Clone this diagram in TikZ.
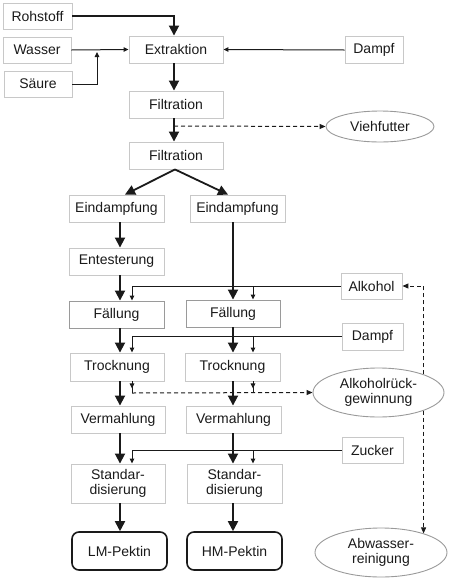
\documentclass[tikz,border=0pt]{standalone}
\usepackage{fontspec}
\setmainfont{Liberation Sans}
\usetikzlibrary{arrows.meta,shapes.geometric}
\definecolor{boxgray}{HTML}{C8C8C8}
\definecolor{ellgray}{HTML}{9A9A9A}
\definecolor{ink}{HTML}{1A1A1A}
\begin{document}
\begin{tikzpicture}[x=1pt,y=-1pt,
  lbl/.style={font=\fontsize{14}{15.5}\selectfont, text=ink, align=center, inner sep=0pt},
  box/.style={lbl, draw=boxgray, line width=0.9pt, minimum height=27pt},
  darkbox/.style={box, draw=ellgray},
  prod/.style={lbl, draw=ink, line width=1.6pt, rounded corners=7pt, minimum width=95pt, minimum height=38pt},
  ell/.style={lbl, ellipse, draw=ellgray, line width=0.9pt},
  bigarrow/.style={draw=ink, line width=1.8pt, -{Triangle[length=10pt,width=10pt]}},
  smallarrow/.style={draw=ink, line width=1pt, -{Triangle[length=5pt,width=4.5pt]}},
  thinline/.style={draw=ink, line width=1pt},
  dashline/.style={draw=ink, line width=1pt, dash pattern=on 4pt off 3pt, -{Triangle[length=6pt,width=5pt]}}
]
\useasboundingbox (0,0) rectangle (449,579);
\coordinate (L) at (120,0);
\coordinate (R) at (233,0);
\coordinate (LS) at (132,0);
\coordinate (RS) at (253,0);

% boxes
\node[box, minimum width=69pt, minimum height=26pt] (roh) at (37.5,16) {Rohstoff};
\node[box, minimum width=68pt, minimum height=26pt] (was) at (37,50) {Wasser};
\node[box, minimum width=68pt, minimum height=26pt] (sae) at (38,84) {Säure};
\node[box, minimum width=94pt] (ext) at (176,49.5) {Extraktion};
\node[box, minimum width=58pt] (dam1) at (374,50) {Dampf};
\node[box, minimum width=94pt] (fil1) at (176,104.5) {Filtration};
\node[box, minimum width=94pt] (fil2) at (176,155.5) {Filtration};
\node[ell, minimum width=108pt, minimum height=31pt] (vieh) at (380,126.5) {Viehfutter};

\node[box, minimum width=95pt] (ein1) at (116.5,208.5) {Eindampfung};
\node[box, minimum width=95pt] (ein2) at (237.5,208.5) {Eindampfung};
\node[box, minimum width=95pt] (ent) at (116.5,261.5) {Entesterung};
\node[darkbox, minimum width=95pt] (fae1) at (116.5,314.5) {Fällung};
\node[darkbox, minimum width=94pt] (fae2) at (233,313.5) {Fällung};
\node[box, minimum width=61pt, minimum height=26pt] (alk) at (371.5,286) {Alkohol};
\node[box, minimum width=61pt] (dam2) at (372.5,336.5) {Dampf};
\node[box, minimum width=94pt, minimum height=28pt] (tro1) at (117,367) {Trocknung};
\node[box, minimum width=95pt, minimum height=28pt] (tro2) at (232.5,367) {Trocknung};
\node[ell, minimum width=131pt, minimum height=49pt] (rueck) at (378.5,392.5) {Alkoholrück-\\gewinnung};
\node[box, minimum width=94pt] (ver1) at (118,419.5) {Vermahlung};
\node[box, minimum width=95pt] (ver2) at (233.5,419.5) {Vermahlung};
\node[box, minimum width=61pt, minimum height=26pt] (zuc) at (372.5,450) {Zucker};
\node[box, minimum width=94pt, minimum height=39pt] (std1) at (118,483.5) {Standar-\\disierung};
\node[box, minimum width=95pt, minimum height=39pt] (std2) at (234.5,483.5) {Standar-\\disierung};
\node[prod] (lm) at (119.5,551) {LM-Pektin};
\node[prod] (hm) at (234.5,551) {HM-Pektin};
\node[ell, minimum width=132pt, minimum height=49pt] (abw) at (381,552.5) {Abwasser-\\reinigung};

% top part
\draw[bigarrow] (roh.east) -| ([xshift=-2pt]ext.north);
\draw[smallarrow] (was.east) -- (ext.west);
\coordinate (j1) at (97,52);
\draw[smallarrow] (sae.east) -| (j1);
\draw[smallarrow] (dam1.west) -- (ext.east);
\draw[bigarrow] ([xshift=-2pt]ext.south) -- ([xshift=-2pt]fil1.north);
\draw[bigarrow] ([xshift=-2pt]fil1.south) -- ([xshift=-2pt]fil2.north);
\coordinate (v0) at (174,126);
\draw[dashline] (v0) -- (vieh.west);
\draw[bigarrow] ([xshift=-1pt]fil2.south) -- ([xshift=8.5pt]ein1.north);
\draw[bigarrow] ([xshift=-1pt]fil2.south) -- ([xshift=-9.5pt]ein2.north);

% main columns
\draw[bigarrow] (ein1.south -| L) -- (ent.north -| L);
\draw[bigarrow] (ent.south -| L) -- (fae1.north -| L);
\draw[bigarrow] (fae1.south -| L) -- (tro1.north -| L);
\draw[bigarrow] (tro1.south -| L) -- (ver1.north -| L);
\draw[bigarrow] (ver1.south -| L) -- (std1.north -| L);
\draw[bigarrow] (std1.south -| L) -- (lm.north -| L);
\draw[bigarrow] (ein2.south -| R) -- (fae2.north -| R);
\draw[bigarrow] (fae2.south -| R) -- (tro2.north -| R);
\draw[bigarrow] (tro2.south -| R) -- (ver2.north -| R);
\draw[bigarrow] (ver2.south -| R) -- (std2.north -| R);
\draw[bigarrow] (std2.south -| R) -- (hm.north -| R);

% feeds
\draw[smallarrow] (alk.west) -| (fae1.north -| LS);
\draw[smallarrow] (alk.west -| RS) -- (fae2.north -| RS);
\draw[smallarrow] (dam2.west) -| (tro1.north -| LS);
\draw[smallarrow] (dam2.west -| RS) -- (tro2.north -| RS);
\draw[smallarrow] (zuc.west) -| (std1.north -| LS);
\draw[smallarrow] (zuc.west -| RS) -- (std2.north -| RS);

% alcohol recovery
\coordinate (d1) at (132,393);
\coordinate (d2) at (253,393);
\draw[smallarrow] (tro1.south -| LS) -- ([yshift=-7pt]tro1.south -| LS);
\draw[thinline] ([yshift=-6pt]tro1.south -| LS) -- (d1);
\draw[smallarrow] (tro2.south -| RS) -- ([yshift=-7pt]tro2.south -| RS);
\draw[thinline] ([yshift=-6pt]tro2.south -| RS) -- (d2);
\draw[dashline] (d1) -- (rueck.west);
\draw[dashline] (rueck.22) |- (alk.east);
\draw[dashline] (rueck.-22) -- (rueck.-22 |- abw.24);
\end{tikzpicture}
\end{document}
